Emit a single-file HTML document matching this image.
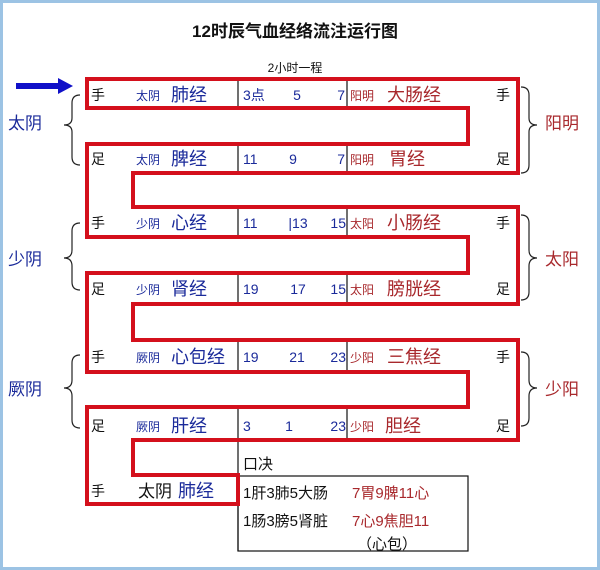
<!DOCTYPE html>
<html><head><meta charset="utf-8"><style>
html,body{margin:0;padding:0;background:#fff;}
svg{display:block;font-family:"Liberation Sans","Noto Sans CJK SC",sans-serif;}
.b{fill:#1a2a9a}.r{fill:#a8282c}.k{fill:#111}
</style></head><body>
<svg width="600" height="570" viewBox="0 0 600 570">
<rect x="1.5" y="1.5" width="597" height="567" fill="#fff" stroke="#9cc3e4" stroke-width="3"/>
<text x="295" y="37" text-anchor="middle" font-size="17" font-weight="bold" class="k">12时辰气血经络流注运行图</text>
<text x="295" y="72" text-anchor="middle" font-size="12" class="k">2小时一程</text>
<path d="M16 86H60" stroke="#1010c8" stroke-width="6"/><polygon points="58,78 73,86 58,94" fill="#1010c8"/>
<g stroke="#111" stroke-width="1.2">
<path d="M238 79V108M347 79V108M238 144V173M347 144V173M238 207V237M347 207V237M238 273V304M347 273V304M238 340V372M347 340V372M238 407V551M347 407V440"/>
<rect x="238" y="476" width="230" height="75" fill="none"/>
</g>
<path d="M87 79H518V173H133V207H518V304H133V340H518V440H133V475H238V504H87V407H468V372H87V273H468V237H87V144H468V108H87Z" fill="none" stroke="#d4101c" stroke-width="4"/>
<g fill="none" stroke="#222" stroke-width="1.2">
<path d="M80 95Q72 95 72 103V118Q72 125 64 125Q72 125 72 132V157Q72 165 80 165"/>
<path d="M80 223Q72 223 72 231V250Q72 258 64 258Q72 258 72 266V282Q72 290 80 290"/>
<path d="M80 355Q72 355 72 363V380Q72 388 64 388Q72 388 72 396V420Q72 428 80 428"/>
<path d="M521 87Q529 87 529 95V118Q529 125 537 125Q529 125 529 132V165Q529 173 521 173"/>
<path d="M521 215Q529 215 529 223V250Q529 258 537 258Q529 258 529 266V292Q529 300 521 300"/>
<path d="M521 352Q529 352 529 360V380Q529 388 537 388Q529 388 529 396V418Q529 426 521 426"/>
</g>
<g font-size="17">
<text x="8" y="129" class="b">太阴</text><text x="8" y="265" class="b">少阴</text><text x="8" y="395" class="b">厥阴</text>
<text x="545" y="129" class="r">阳明</text><text x="545" y="265" class="r">太阳</text><text x="545" y="395" class="r">少阳</text>
</g>
<g font-size="14" class="k">
<text x="91" y="100">手</text><text x="91" y="164">足</text><text x="91" y="228">手</text><text x="91" y="294">足</text><text x="91" y="362">手</text><text x="91" y="431">足</text><text x="91" y="496">手</text>
<text x="496" y="100">手</text><text x="496" y="164">足</text><text x="496" y="228">手</text><text x="496" y="294">足</text><text x="496" y="362">手</text><text x="496" y="431">足</text>
</g>
<g font-size="12" class="b">
<text x="136" y="100">太阴</text><text x="136" y="164">太阴</text><text x="136" y="228">少阴</text><text x="136" y="294">少阴</text><text x="136" y="362">厥阴</text><text x="136" y="431">厥阴</text>
</g>
<g font-size="18" class="b">
<text x="171" y="101">肺经</text><text x="171" y="165">脾经</text><text x="171" y="229">心经</text><text x="171" y="295">肾经</text><text x="171" y="363">心包经</text><text x="171" y="432">肝经</text><text x="178" y="497">肺经</text>
</g>
<text x="138" y="497" font-size="17" class="k">太阴</text>
<g font-size="12" class="r">
<text x="350" y="100">阳明</text><text x="350" y="164">阳明</text><text x="350" y="228">太阳</text><text x="350" y="294">太阳</text><text x="350" y="362">少阳</text><text x="350" y="431">少阳</text>
</g>
<g font-size="18" class="r">
<text x="387" y="101">大肠经</text><text x="389" y="165">胃经</text><text x="387" y="229">小肠经</text><text x="387" y="295">膀胱经</text><text x="387" y="363">三焦经</text><text x="385" y="432">胆经</text>
</g>
<g font-size="14" fill="#1a2a9a">
<text x="243" y="100">3点</text><text x="297" y="100" text-anchor="middle">5</text><text x="345" y="100" text-anchor="end">7</text>
<text x="243" y="164">11</text><text x="293" y="164" text-anchor="middle">9</text><text x="345" y="164" text-anchor="end">7</text>
<text x="243" y="228">11</text><text x="298" y="228" text-anchor="middle">|13</text><text x="346" y="228" text-anchor="end">15</text>
<text x="243" y="294">19</text><text x="298" y="294" text-anchor="middle">17</text><text x="346" y="294" text-anchor="end">15</text>
<text x="243" y="362">19</text><text x="297" y="362" text-anchor="middle">21</text><text x="346" y="362" text-anchor="end">23</text>
<text x="243" y="431">3</text><text x="289" y="431" text-anchor="middle">1</text><text x="346" y="431" text-anchor="end">23</text>
</g>
<g font-size="15">
<text x="243" y="469" class="k">口决</text>
<text x="243" y="498" class="k">1肝3肺5大肠</text><text x="352" y="498" class="r">7胃9脾11心</text>
<text x="243" y="526" class="k">1肠3膀5肾脏</text><text x="352" y="526" class="r">7心9焦胆11</text>
<text x="357" y="549" class="k">（心包）</text>
</g>
</svg>
</body></html>
